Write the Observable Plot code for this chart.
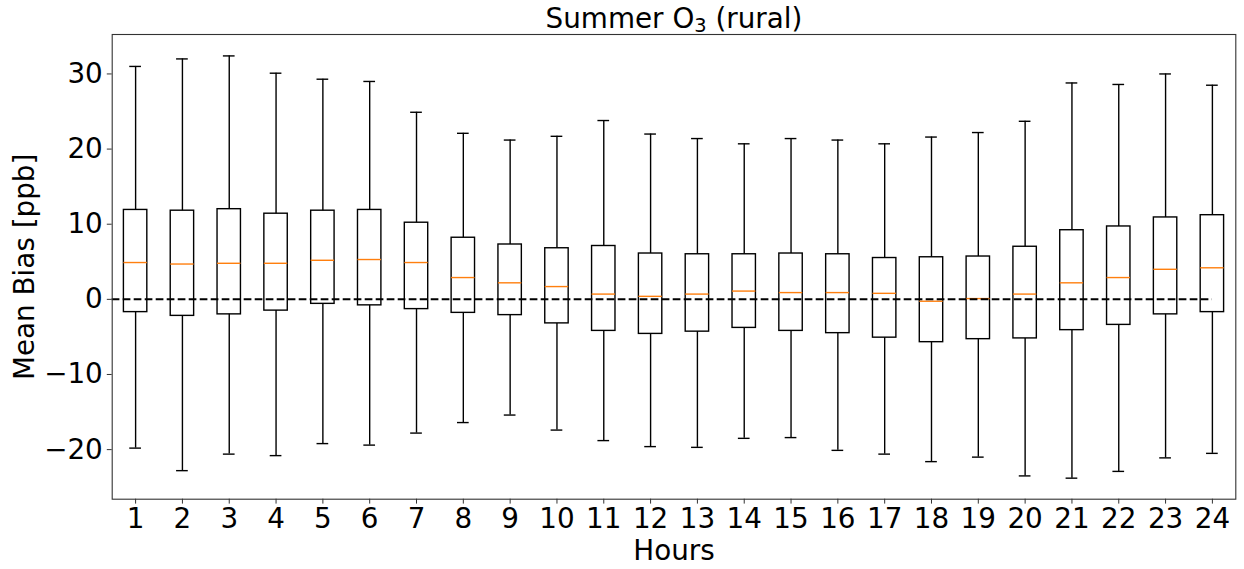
<!DOCTYPE html>
<html>
<head>
<meta charset="utf-8">
<script src="https://cdn.jsdelivr.net/npm/d3@7"></script>
<script src="https://cdn.jsdelivr.net/npm/@observablehq/plot@0.6"></script>
<style>
  body { margin: 0; background: #fff; }
  #chart svg { font-family: "DejaVu Sans", sans-serif; }
</style>
</head>
<body>
<div id="chart"></div>
<script>
const titleMain = "Summer O";
const titleSub = "3";
const titleRest = " (rural)";
const title = titleMain + titleSub + titleRest;
const xLabel = "Hours";
const yLabel = "Mean Bias [ppb]";

const hours = [1, 2, 3, 4, 5, 6, 7, 8, 9, 10, 11, 12, 13, 14, 15, 16, 17, 18, 19, 20, 21, 22, 23, 24];
const yTicks = [-20, -10, 0, 10, 20, 30];

const whiskerHigh = [31.0, 32.0, 32.4, 30.1, 29.3, 29.0, 24.9, 22.1, 21.2, 21.7, 23.8, 22.0, 21.4, 20.7, 21.4, 21.2, 20.7, 21.6, 22.2, 23.7, 28.8, 28.6, 30.0, 28.5];
const q3 = [11.9, 11.8, 12.0, 11.4, 11.8, 11.9, 10.2, 8.2, 7.3, 6.8, 7.1, 6.1, 6.0, 6.0, 6.1, 6.0, 5.5, 5.6, 5.7, 7.0, 9.2, 9.7, 10.9, 11.2];
const median = [4.9, 4.7, 4.8, 4.8, 5.2, 5.3, 4.9, 2.9, 2.2, 1.7, 0.7, 0.4, 0.7, 1.1, 0.9, 0.9, 0.8, -0.25, 0.1, 0.7, 2.2, 2.9, 4.0, 4.2];
const q1 = [-1.7, -2.2, -2.0, -1.5, -0.6, -0.8, -1.3, -1.8, -2.1, -3.2, -4.2, -4.6, -4.3, -3.8, -4.2, -4.5, -5.1, -5.7, -5.3, -5.2, -4.1, -3.4, -2.0, -1.7];
const whiskerLow = [-19.8, -22.8, -20.6, -20.8, -19.2, -19.4, -17.8, -16.4, -15.4, -17.4, -18.8, -19.6, -19.7, -18.5, -18.4, -20.1, -20.6, -21.6, -21.0, -23.5, -23.8, -22.9, -21.1, -20.5];

const data = hours.map((h, i) => ({
  hour: h, lo: whiskerLow[i], q1: q1[i], med: median[i], q3: q3[i], hi: whiskerHigh[i]
}));

const boxHalf = 0.25;
const capHalf = 0.125;
const lw = 1.4;

const chart = Plot.plot({
  width: 1244,
  height: 569,
  marginLeft: 111.7,
  marginRight: 8.7,
  marginTop: 34,
  marginBottom: 70.3,
  style: { fontFamily: "DejaVu Sans, sans-serif", fontSize: "27.8px", background: "white", color: "black", overflow: "visible" },
  x: { domain: [0.5, 24.5] },
  y: { domain: [-26.6, 35.25] },
  marks: [
    Plot.ruleX(data, { x: "hour", y1: "q3", y2: "hi", stroke: "black", strokeWidth: lw }),
    Plot.ruleX(data, { x: "hour", y1: "lo", y2: "q1", stroke: "black", strokeWidth: lw }),
    Plot.ruleY(data, { y: "hi", x1: d => d.hour - capHalf, x2: d => d.hour + capHalf, stroke: "black", strokeWidth: lw }),
    Plot.ruleY(data, { y: "lo", x1: d => d.hour - capHalf, x2: d => d.hour + capHalf, stroke: "black", strokeWidth: lw }),
    Plot.rect(data, { x1: d => d.hour - boxHalf, x2: d => d.hour + boxHalf, y1: "q1", y2: "q3", inset: 0, fill: "none", stroke: "black", strokeWidth: lw }),
    Plot.ruleY(data, { y: "med", x1: d => d.hour - boxHalf, x2: d => d.hour + boxHalf, stroke: "#ff7f0e", strokeWidth: lw }),
    Plot.ruleY([0], { x1: 0.5, x2: 24, stroke: "black", strokeWidth: 2, strokeDasharray: "7.7,3.3" }),
    Plot.axisX({ ticks: hours, tickFormat: d => String(d), tickSize: 4.9, tickPadding: 4.3, label: null, stroke: "#333" }),
    Plot.axisY({ ticks: yTicks, tickSize: 4.9, tickPadding: 4.5, label: null, stroke: "#333" }),
    Plot.frame({ stroke: "#333", strokeWidth: 1.1 }),
    Plot.text([title], { frameAnchor: "top", dy: -6.7, lineAnchor: "bottom", textAnchor: "middle", fill: "black" }),
    Plot.text([xLabel], { frameAnchor: "bottom", dy: 61, lineAnchor: "bottom", textAnchor: "middle", fill: "black" }),
    Plot.text([yLabel], { frameAnchor: "left", dx: -78.4, rotate: -90, lineAnchor: "bottom", textAnchor: "middle", fill: "black" })
  ]
});

// render the "3" of O3 as a real subscript
const ns = "http://www.w3.org/2000/svg";
chart.querySelectorAll("text").forEach(t => {
  if (t.textContent === title) {
    while (t.firstChild) t.removeChild(t.firstChild);
    const a = document.createElementNS(ns, "tspan");
    a.textContent = titleMain;
    const b = document.createElementNS(ns, "tspan");
    b.textContent = titleSub;
    b.setAttribute("font-size", "0.7em");
    b.setAttribute("dy", "0.2em");
    const c = document.createElementNS(ns, "tspan");
    c.textContent = titleRest;
    c.setAttribute("dy", "-0.14em");
    t.appendChild(a); t.appendChild(b); t.appendChild(c);
  }
});

document.getElementById("chart").appendChild(chart);
</script>
</body>
</html>
